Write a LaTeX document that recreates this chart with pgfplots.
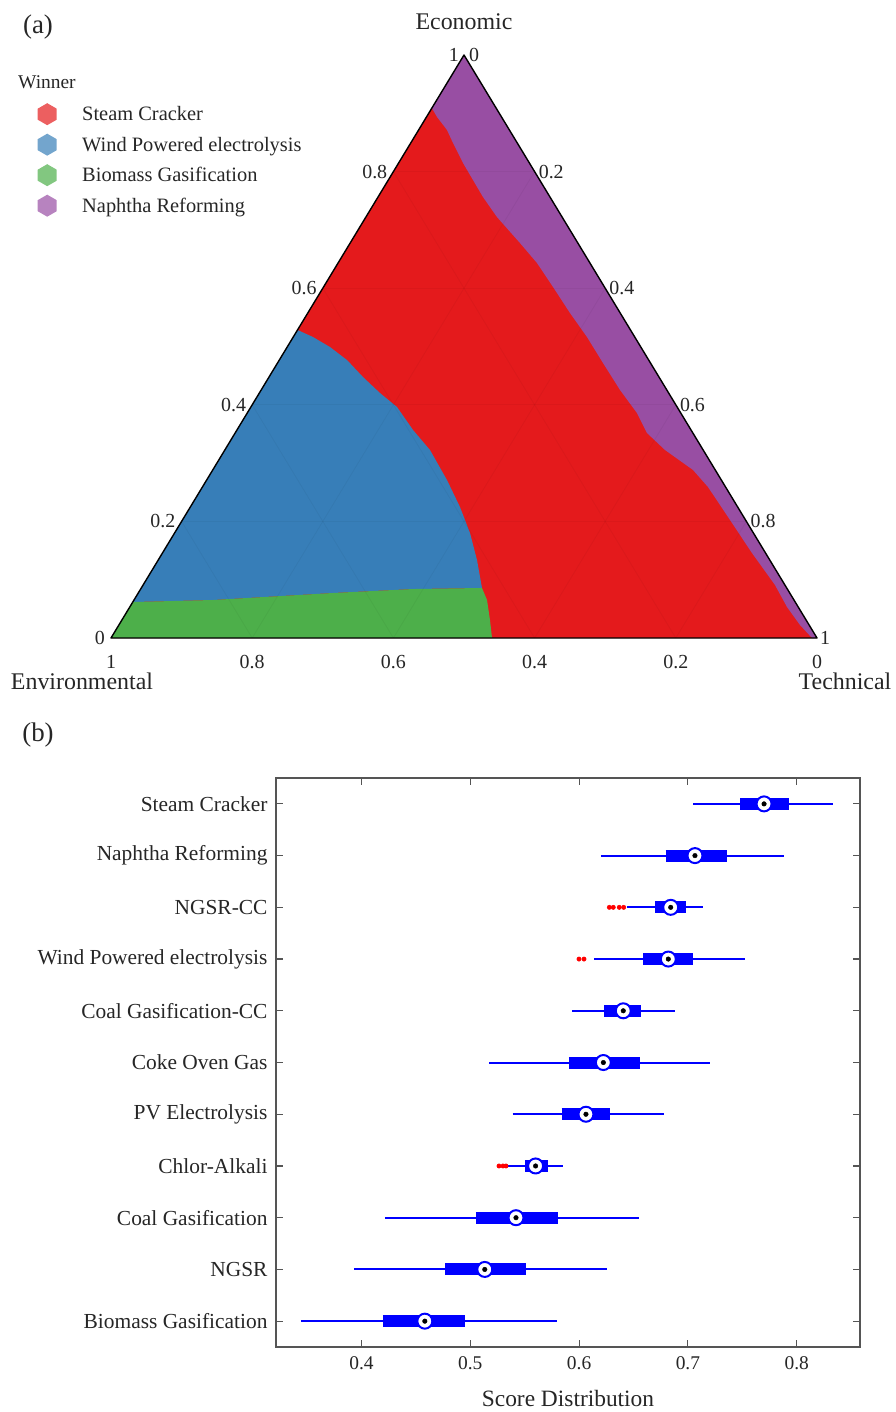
\documentclass[border=0pt]{standalone}
\usepackage{pgfplots}
\pgfplotsset{compat=1.18}
\usepackage{fontspec}
\setmainfont{Liberation Serif}
\definecolor{cRed}{HTML}{E41A1C}
\definecolor{cBlue}{HTML}{377EB8}
\definecolor{cGreen}{HTML}{4DAF4A}
\definecolor{cPurple}{HTML}{984EA3}
\definecolor{txt}{HTML}{262626}
\definecolor{axgray}{HTML}{555555}
\definecolor{mblue}{HTML}{0000FF}

\pgfdeclareplotmark{hexagon}{%
  \pgfpathmoveto{\pgfpointpolar{90}{\pgfplotmarksize}}%
  \pgfpathlineto{\pgfpointpolar{150}{\pgfplotmarksize}}%
  \pgfpathlineto{\pgfpointpolar{210}{\pgfplotmarksize}}%
  \pgfpathlineto{\pgfpointpolar{270}{\pgfplotmarksize}}%
  \pgfpathlineto{\pgfpointpolar{330}{\pgfplotmarksize}}%
  \pgfpathlineto{\pgfpointpolar{30}{\pgfplotmarksize}}%
  \pgfpathclose
  \pgfusepathqfill
}

% #1 row, #2 whisker low, #3 q1, #4 median, #5 q3, #6 whisker high
\newcommand{\boxrow}[6]{%
  \addplot[mblue, line width=2bp] coordinates {(#2,#1) (#6,#1)};
  \addplot[mblue, line width=12bp] coordinates {(#3,#1) (#5,#1)};
  \addplot[only marks, mark=*, mark size=7.5bp, mark options={fill=white, draw=mblue, line width=2bp}] coordinates {(#4,#1)};
  \addplot[only marks, mark=*, mark size=2.3bp, mark options={fill=black, draw=none}] coordinates {(#4,#1)};
}

\newcommand{\tfont}{\fontsize{20}{24}\selectfont}

\begin{document}
\begin{tikzpicture}
\path[use as bounding box] (0,0) rectangle (896bp,-1412bp);

\node[font=\fontsize{27}{30}\selectfont, text=txt] at (38bp,-27bp) {(a)};
\node[font=\fontsize{27}{30}\selectfont, text=txt] at (38bp,-735bp) {(b)};
\node[font=\fontsize{19.5}{22}\selectfont, text=txt, anchor=west, inner sep=0pt] at (18bp,-82bp) {Winner};

% ---------------- (a) ternary map ----------------
\begin{axis}[
  at={(111bp,-638bp)}, anchor=south west,
  scale only axis, width=706bp, height=583bp,
  xmin=0, xmax=1, ymin=0, ymax=1,
  hide axis, clip=false,
  legend style={at={(axis description cs:-0.1062,0.9177)}, anchor=north west,
    draw=none, fill=none, font=\fontsize{20.5}{24}\selectfont, text=txt,
    row sep=8.5bp, inner sep=0pt},
  legend cell align=left,
  legend image code/.code={%
    \path[draw=none, fill=none] (0bp,-1bp) rectangle (44bp,1bp);
    \pgfplotsset{#1}%
    \draw[only marks, #1] plot coordinates {(11bp,0bp)};},
]
% Steam Cracker (background)
\addplot[fill=cRed, draw=none, forget plot] coordinates {(0,0) (1,0) (0.5,1)} -- cycle;
% Naphtha Reforming
\addplot[fill=cPurple, draw=none, forget plot] coordinates {
 (0.5,1) (0.4545,0.909) (0.4618,0.8937) (0.4759,0.8714) (0.4844,0.8491)
 (0.4986,0.8148) (0.5127,0.7856) (0.5269,0.7564) (0.5467,0.7221)
 (0.5793,0.6775) (0.6034,0.6432) (0.6261,0.6021) (0.6501,0.5575)
 (0.6742,0.5163) (0.6969,0.4717) (0.7210,0.4254) (0.7450,0.3859)
 (0.7592,0.3516) (0.7847,0.3225) (0.8244,0.2882) (0.8456,0.2590)
 (0.8768,0.2024) (0.9079,0.1458) (0.9405,0.0909) (0.9575,0.0532)
 (0.9759,0.0223) (0.9929,0) (1,0)} -- cycle;
% Wind Powered electrolysis
\addplot[fill=cBlue, draw=none, forget plot] coordinates {
 (0.2642,0.5283) (0.2861,0.5163) (0.3102,0.4991) (0.3343,0.4768)
 (0.3569,0.4477) (0.3810,0.4202) (0.4051,0.3962) (0.4278,0.3568)
 (0.4518,0.3225) (0.4759,0.2710) (0.4943,0.2247) (0.5085,0.1801)
 (0.5184,0.1338) (0.5255,0.0858) (0.4278,0.0840) (0.3144,0.0772)
 (0.1445,0.0652) (0.0309,0.0617)} -- cycle;
% Biomass Gasification
\addplot[fill=cGreen, draw=none, forget plot] coordinates {
 (0.0309,0.0617) (0.1445,0.0652) (0.3144,0.0772) (0.4278,0.0840)
 (0.5255,0.0858) (0.5326,0.0652) (0.5368,0.0309) (0.5397,0) (0,0)} -- cycle;
% faint grid
\addplot[black, opacity=0.04, line width=0.8bp, forget plot] coordinates {(0.1,0.2) (0.9,0.2)};
\addplot[black, opacity=0.04, line width=0.8bp, forget plot] coordinates {(0.2,0.4) (0.8,0.4)};
\addplot[black, opacity=0.04, line width=0.8bp, forget plot] coordinates {(0.3,0.6) (0.7,0.6)};
\addplot[black, opacity=0.04, line width=0.8bp, forget plot] coordinates {(0.4,0.8) (0.6,0.8)};
\addplot[black, opacity=0.04, line width=0.8bp, forget plot] coordinates {(0.2,0) (0.6,0.8)};
\addplot[black, opacity=0.04, line width=0.8bp, forget plot] coordinates {(0.4,0) (0.7,0.6)};
\addplot[black, opacity=0.04, line width=0.8bp, forget plot] coordinates {(0.6,0) (0.8,0.4)};
\addplot[black, opacity=0.04, line width=0.8bp, forget plot] coordinates {(0.8,0) (0.9,0.2)};
\addplot[black, opacity=0.04, line width=0.8bp, forget plot] coordinates {(0.8,0) (0.4,0.8)};
\addplot[black, opacity=0.04, line width=0.8bp, forget plot] coordinates {(0.6,0) (0.3,0.6)};
\addplot[black, opacity=0.04, line width=0.8bp, forget plot] coordinates {(0.4,0) (0.2,0.4)};
\addplot[black, opacity=0.04, line width=0.8bp, forget plot] coordinates {(0.2,0) (0.1,0.2)};
% triangle outline
\addplot[black, line width=1.4bp, line join=round, forget plot] coordinates {(0,0) (1,0) (0.5,1)} -- cycle;

% legend
\addlegendimage{only marks, mark=hexagon, mark size=11bp, mark options={fill=cRed!70!white, draw=none}}
\addlegendentry{Steam Cracker}
\addlegendimage{only marks, mark=hexagon, mark size=11bp, mark options={fill=cBlue!70!white, draw=none}}
\addlegendentry{Wind Powered electrolysis}
\addlegendimage{only marks, mark=hexagon, mark size=11bp, mark options={fill=cGreen!70!white, draw=none}}
\addlegendentry{Biomass Gasification}
\addlegendimage{only marks, mark=hexagon, mark size=11bp, mark options={fill=cPurple!70!white, draw=none}}
\addlegendentry{Naphtha Reforming}

% tick labels
\begin{scope}[every node/.style={font=\tfont, text=txt, inner sep=0pt}]
% Economic (left edge)
\node[anchor=east, xshift=-6bp] at (axis cs:0,0) {0};
\node[anchor=east, xshift=-6bp] at (axis cs:0.1,0.2) {0.2};
\node[anchor=east, xshift=-6bp] at (axis cs:0.2,0.4) {0.4};
\node[anchor=east, xshift=-6bp] at (axis cs:0.3,0.6) {0.6};
\node[anchor=east, xshift=-6bp] at (axis cs:0.4,0.8) {0.8};
\node[anchor=east, xshift=-5bp] at (axis cs:0.5,1) {1};
% Technical (right edge)
\node[anchor=west, xshift=5bp] at (axis cs:0.5,1) {0};
\node[anchor=west, xshift=4bp] at (axis cs:0.6,0.8) {0.2};
\node[anchor=west, xshift=4bp] at (axis cs:0.7,0.6) {0.4};
\node[anchor=west, xshift=4bp] at (axis cs:0.8,0.4) {0.6};
\node[anchor=west, xshift=4bp] at (axis cs:0.9,0.2) {0.8};
\node[anchor=west, xshift=3bp] at (axis cs:1,0) {1};
% Environmental (bottom edge)
\node[anchor=north, yshift=-17bp] at (axis cs:0,0) {1};
\node[anchor=north, yshift=-17bp] at (axis cs:0.2,0) {0.8};
\node[anchor=north, yshift=-17bp] at (axis cs:0.4,0) {0.6};
\node[anchor=north, yshift=-17bp] at (axis cs:0.6,0) {0.4};
\node[anchor=north, yshift=-17bp] at (axis cs:0.8,0) {0.2};
\node[anchor=north, yshift=-17bp] at (axis cs:1,0) {0};
\end{scope}
\node[font=\fontsize{24}{28}\selectfont, text=txt] at (axis cs:0.5,1) [yshift=33bp] {Economic};
\node[font=\fontsize{24}{28}\selectfont, text=txt] at (axis cs:0,0) [xshift=-29bp, yshift=-43bp] {Environmental};
\node[font=\fontsize{24}{28}\selectfont, text=txt] at (axis cs:1,0) [xshift=28bp, yshift=-43bp] {Technical};
\end{axis}

% ---------------- (b) score distribution ----------------
\begin{axis}[
  at={(276bp,-1347bp)}, anchor=south west,
  scale only axis, width=584bp, height=569bp,
  xmin=0.3214, xmax=0.8582, ymin=0.5, ymax=11.5,
  y dir=reverse,
  xtick={0.4,0.5,0.6,0.7,0.8},
  xticklabels={0.4,0.5,0.6,0.7,0.8},
  ytick={1,2,3,4,5,6,7,8,9,10,11},
  yticklabels={Steam Cracker, Naphtha Reforming, NGSR-CC, Wind Powered electrolysis,
    Coal Gasification-CC, Coke Oven Gas, PV Electrolysis, Chlor-Alkali,
    Coal Gasification, NGSR, Biomass Gasification},
  tick align=inside, major tick length=7bp,
  axis line style={axgray, line width=1.2bp},
  tick style={axgray, line width=1.2bp},
  ticklabel style={font=\fontsize{21.5}{25}\selectfont, text=txt},
  xticklabel style={font=\fontsize{19.5}{22}\selectfont, yshift=-6bp},
  yticklabel style={xshift=-5bp},
  xlabel={Score Distribution},
  xlabel style={at={(axis description cs:0.5,-0.0896)}, anchor=center,
    font=\fontsize{23.5}{27}\selectfont, text=txt},
  clip=false,
]
\boxrow{1}{0.7050}{0.7483}{0.7700}{0.7933}{0.8334}
\boxrow{2}{0.6201}{0.6796}{0.7065}{0.7362}{0.7883}
\boxrow{3}{0.6437}{0.6698}{0.6842}{0.6983}{0.7142}
\boxrow{4}{0.6137}{0.6590}{0.6820}{0.7050}{0.7528}
\boxrow{5}{0.5935}{0.6233}{0.6406}{0.6569}{0.6881}
\boxrow{6}{0.5172}{0.5907}{0.6223}{0.6564}{0.7203}
\boxrow{7}{0.5390}{0.5840}{0.6063}{0.6284}{0.6780}
\boxrow{8}{0.5344}{0.5503}{0.5600}{0.5714}{0.5852}
\boxrow{9}{0.4214}{0.5052}{0.5420}{0.5806}{0.6549}
\boxrow{10}{0.3931}{0.4769}{0.5133}{0.5512}{0.6258}
\boxrow{11}{0.3442}{0.4196}{0.4582}{0.4949}{0.5799}
% outliers
\addplot[only marks, mark=*, mark size=2.2bp, mark options={fill=red, draw=red}] coordinates {
 (0.6278,3) (0.6314,3) (0.6369,3) (0.6410,3)
 (0.5999,4) (0.6045,4)
 (0.5264,8) (0.5300,8) (0.5328,8)};
\end{axis}
\end{tikzpicture}
\end{document}
